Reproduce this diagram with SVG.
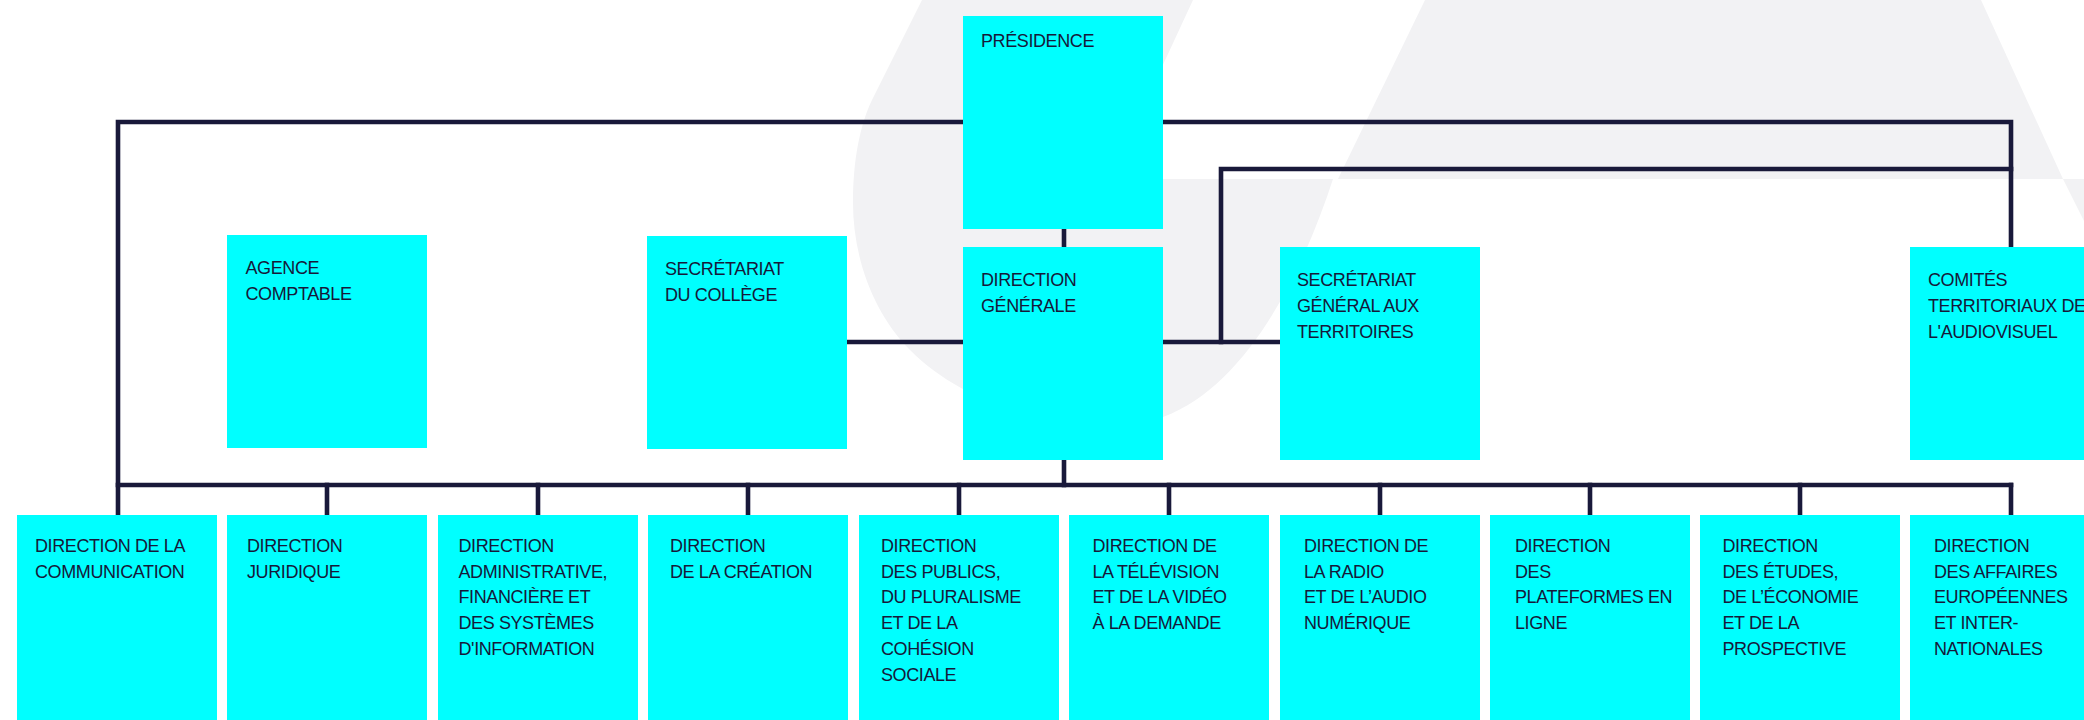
<svg xmlns="http://www.w3.org/2000/svg" width="2084" height="720" viewBox="0 0 2084 720">
<style>
.bg{fill:#f2f2f4}
.box{fill:#00ffff}
.lbl{font-family:"Liberation Sans",Arial,sans-serif;font-size:18px;letter-spacing:-0.4px;fill:#16193a}
.ln{fill:none;stroke:#19193a;stroke-width:4.6;stroke-linecap:square;stroke-linejoin:miter}
</style>
<rect width="2084" height="720" fill="#ffffff"/>
<g id="background">
<path class="bg" d="M922,0 L1193,0 L1110,179 L1333,179 C1305,265 1250,385 1163,417 C1103,439 980,420 910,350 C875,315 853,260 853,203 C853,160 860,125 872,100 Z"/>
<polygon class="bg" points="1425,0 1981,0 2063,179 1338,179"/>
<polygon class="bg" points="2063,179 2084,179 2084,221"/>
</g>
<g id="connectors">
<polyline class="ln" points="118,515 118,122 2011,122 2011,247"/>
<polyline class="ln" points="1221,342 1221,169 2011,169"/>
<line class="ln" x1="1064" y1="229" x2="1064" y2="247"/>
<line class="ln" x1="847" y1="342" x2="963" y2="342"/>
<line class="ln" x1="1163" y1="342" x2="1280" y2="342"/>
<line class="ln" x1="1064" y1="460" x2="1064" y2="485"/>
<line class="ln" x1="118" y1="485" x2="2011" y2="485"/>
<line class="ln" x1="327" y1="485" x2="327" y2="515"/>
<line class="ln" x1="538" y1="485" x2="538" y2="515"/>
<line class="ln" x1="748" y1="485" x2="748" y2="515"/>
<line class="ln" x1="959" y1="485" x2="959" y2="515"/>
<line class="ln" x1="1169" y1="485" x2="1169" y2="515"/>
<line class="ln" x1="1380" y1="485" x2="1380" y2="515"/>
<line class="ln" x1="1590" y1="485" x2="1590" y2="515"/>
<line class="ln" x1="1800" y1="485" x2="1800" y2="515"/>
<line class="ln" x1="2011" y1="485" x2="2011" y2="515"/>
</g>
<g id="presidence"><rect class="box" x="963" y="16" width="200" height="213"/><text class="lbl" x="981" y="47">PRÉSIDENCE</text></g>
<g id="agence-comptable"><rect class="box" x="227" y="235" width="200" height="213"/><text class="lbl"><tspan x="245.5" y="274">AGENCE</tspan><tspan x="245.5" y="300">COMPTABLE</tspan></text></g>
<g id="secretariat-college"><rect class="box" x="647" y="236" width="200" height="213"/><text class="lbl"><tspan x="665" y="275">SECRÉTARIAT</tspan><tspan x="665" y="301">DU COLLÈGE</tspan></text></g>
<g id="direction-generale"><rect class="box" x="963" y="247" width="200" height="213"/><text class="lbl"><tspan x="981" y="286">DIRECTION</tspan><tspan x="981" y="312">GÉNÉRALE</tspan></text></g>
<g id="secretariat-territoires"><rect class="box" x="1280" y="247" width="200" height="213"/><text class="lbl"><tspan x="1297" y="286">SECRÉTARIAT</tspan><tspan x="1297" y="312">GÉNÉRAL AUX</tspan><tspan x="1297" y="338">TERRITOIRES</tspan></text></g>
<g id="comites"><rect class="box" x="1910" y="247" width="200" height="213"/><text class="lbl"><tspan x="1928" y="286">COMITÉS</tspan><tspan x="1928" y="312">TERRITORIAUX DE</tspan><tspan x="1928" y="338">L'AUDIOVISUEL</tspan></text></g>
<g id="dir-communication"><rect class="box" x="17" y="515" width="200" height="210"/><text class="lbl"><tspan x="35" y="552">DIRECTION DE LA</tspan><tspan x="35" y="577.7">COMMUNICATION</tspan></text></g>
<g id="dir-juridique"><rect class="box" x="227" y="515" width="200" height="210"/><text class="lbl"><tspan x="247" y="552">DIRECTION</tspan><tspan x="247" y="577.7">JURIDIQUE</tspan></text></g>
<g id="dir-administrative"><rect class="box" x="438" y="515" width="200" height="210"/><text class="lbl"><tspan x="458.5" y="552">DIRECTION</tspan><tspan x="458.5" y="577.7">ADMINISTRATIVE,</tspan><tspan x="458.5" y="603.4">FINANCIÈRE ET</tspan><tspan x="458.5" y="629.1">DES SYSTÈMES</tspan><tspan x="458.5" y="654.8">D'INFORMATION</tspan></text></g>
<g id="dir-creation"><rect class="box" x="648" y="515" width="200" height="210"/><text class="lbl"><tspan x="670" y="552">DIRECTION</tspan><tspan x="670" y="577.7">DE LA CRÉATION</tspan></text></g>
<g id="dir-publics"><rect class="box" x="859" y="515" width="200" height="210"/><text class="lbl"><tspan x="881" y="552">DIRECTION</tspan><tspan x="881" y="577.7">DES PUBLICS,</tspan><tspan x="881" y="603.4">DU PLURALISME</tspan><tspan x="881" y="629.1">ET DE LA</tspan><tspan x="881" y="654.8">COHÉSION</tspan><tspan x="881" y="680.5">SOCIALE</tspan></text></g>
<g id="dir-television"><rect class="box" x="1069" y="515" width="200" height="210"/><text class="lbl"><tspan x="1092.5" y="552">DIRECTION DE</tspan><tspan x="1092.5" y="577.7">LA TÉLÉVISION</tspan><tspan x="1092.5" y="603.4">ET DE LA VIDÉO</tspan><tspan x="1092.5" y="629.1">À LA DEMANDE</tspan></text></g>
<g id="dir-radio"><rect class="box" x="1280" y="515" width="200" height="210"/><text class="lbl"><tspan x="1304" y="552">DIRECTION DE</tspan><tspan x="1304" y="577.7">LA RADIO</tspan><tspan x="1304" y="603.4">ET DE L’AUDIO</tspan><tspan x="1304" y="629.1">NUMÉRIQUE</tspan></text></g>
<g id="dir-plateformes"><rect class="box" x="1490" y="515" width="200" height="210"/><text class="lbl"><tspan x="1515" y="552">DIRECTION</tspan><tspan x="1515" y="577.7">DES</tspan><tspan x="1515" y="603.4">PLATEFORMES EN</tspan><tspan x="1515" y="629.1">LIGNE</tspan></text></g>
<g id="dir-etudes"><rect class="box" x="1700" y="515" width="200" height="210"/><text class="lbl"><tspan x="1722.5" y="552">DIRECTION</tspan><tspan x="1722.5" y="577.7">DES ÉTUDES,</tspan><tspan x="1722.5" y="603.4">DE L’ÉCONOMIE</tspan><tspan x="1722.5" y="629.1">ET DE LA</tspan><tspan x="1722.5" y="654.8">PROSPECTIVE</tspan></text></g>
<g id="dir-affaires"><rect class="box" x="1910" y="515" width="200" height="210"/><text class="lbl"><tspan x="1934" y="552">DIRECTION</tspan><tspan x="1934" y="577.7">DES AFFAIRES</tspan><tspan x="1934" y="603.4">EUROPÉENNES</tspan><tspan x="1934" y="629.1">ET INTER-</tspan><tspan x="1934" y="654.8">NATIONALES</tspan></text></g>
</svg>
